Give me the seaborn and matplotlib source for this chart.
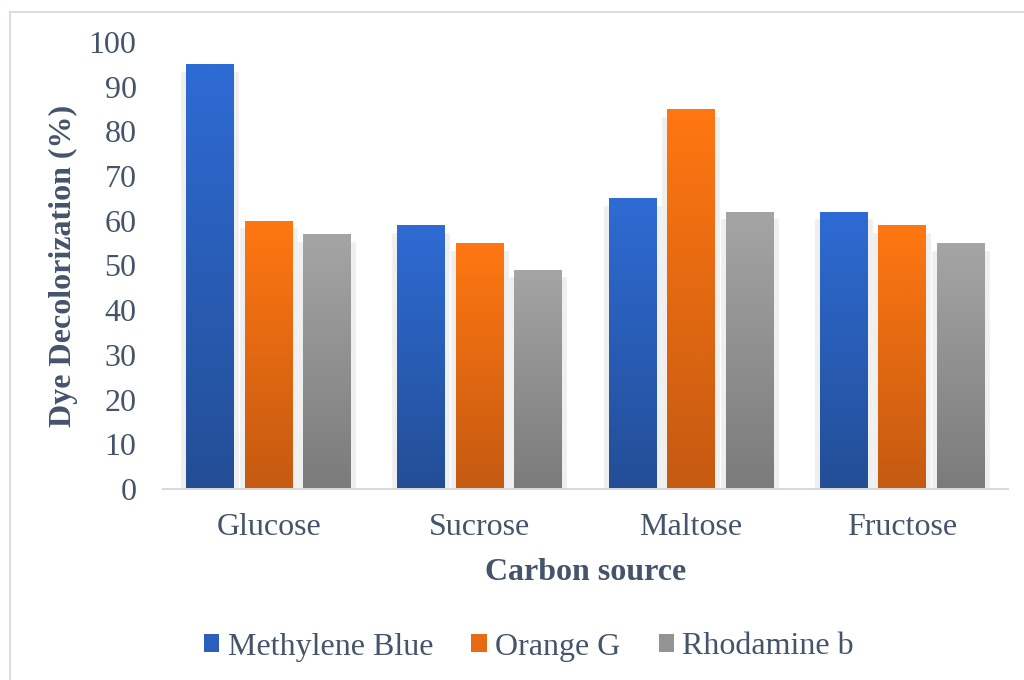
import numpy as np
import pandas as pd
import seaborn as sns
import matplotlib
matplotlib.use("Agg")
import matplotlib.pyplot as plt
import matplotlib.patheffects as pe
from matplotlib.colors import LinearSegmentedColormap
from matplotlib.patches import Rectangle

# Decolorization (%) per carbon source
categories = ["Glucose", "Sucrose", "Maltose", "Fructose"]
dyes = ["Methylene Blue", "Orange G", "Rhodamine b"]
methylene_blue = [95, 59, 65, 62]
orange_g = [60, 55, 85, 59]
rhodamine_b = [57, 49, 62, 55]
y_ticks = [0, 10, 20, 30, 40, 50, 60, 70, 80, 90, 100]

# top (light) and bottom (dark) shade of each dye's bar gradient
top_colors = ["#2E6BD4", "#FF7711", "#A5A5A5"]
bottom_colors = ["#234E96", "#C55A11", "#7B7B7B"]
text_color = "#44546A"
fs = 23

df = pd.DataFrame({
    "Carbon source": categories * 3,
    "Dye": np.repeat(dyes, len(categories)),
    "Value": methylene_blue + orange_g + rhodamine_b,
})

sns.set_theme(style="white")
plt.rcParams["font.family"] = ["Liberation Serif", "DejaVu Serif"]

fig = plt.figure(figsize=(10.24, 6.8), dpi=100)
ax = fig.add_axes([163 / 1024, 1 - 489 / 680, (1008 - 163) / 1024, (489 - 42) / 680])

sns.barplot(data=df, x="Carbon source", y="Value", hue="Dye",
            hue_order=dyes, order=categories, palette=top_colors,
            width=0.83, gap=0.18, ax=ax, legend=False, errorbar=None)

# soft shadow behind every bar, gradient fill on top
for container, c_top, c_bot in zip(ax.containers, top_colors, bottom_colors):
    cmap = LinearSegmentedColormap.from_list("g", [c_bot, c_top])
    grad = np.linspace(0, 1, 256).reshape(-1, 1)
    for bar in container:
        bar.set_facecolor("none")
        bar.set_edgecolor("none")
        bar.set_path_effects([pe.Stroke(linewidth=7, foreground="#efefef",
                                        offset=(0, -9))])
        x0, y0 = bar.get_x(), bar.get_y()
        w, h = bar.get_width(), bar.get_height()
        im = ax.imshow(grad, cmap=cmap, origin="lower", aspect="auto",
                       extent=[x0, x0 + w, y0, y0 + h], zorder=2,
                       interpolation="bilinear")
        im.set_clip_path(bar)

ax.set_xlim(-0.5, len(categories) - 0.5)
ax.set_ylim(0, 100)
ax.set_yticks(y_ticks)
ax.set_yticklabels([str(v) for v in y_ticks])

for side in ["top", "right", "left"]:
    ax.spines[side].set_visible(False)
ax.spines["bottom"].set_color("#D9D9D9")
ax.spines["bottom"].set_linewidth(1.4)
ax.spines["bottom"].set_zorder(3)

ax.tick_params(axis="y", length=0, pad=19, labelsize=fs, labelcolor=text_color)
ax.tick_params(axis="x", length=0, pad=17, labelsize=fs, labelcolor=text_color)
ax.set_xlabel("Carbon source", fontsize=fs, fontweight="bold",
              color=text_color, labelpad=12)
ax.set_ylabel("Dye Decolorization (%)", fontsize=fs, fontweight="bold",
              color=text_color, labelpad=8)

# legend with solid swatches
handles = [Rectangle((0, 0), 1, 1, facecolor=c, edgecolor="none") for c in
           ["#2A5FBE", "#E86A12", "#939393"]]
fig.legend(handles, dyes, loc="center", bbox_to_anchor=(529 / 1024, 1 - 647 / 680),
           ncol=3, frameon=False, fontsize=fs, labelcolor=text_color,
           handlelength=0.48, handleheight=0.5, handletextpad=0.26,
           columnspacing=1.2)

# chart-area frame (top and left edges)
frame = Rectangle((10 / 1024, -0.1), 1.2, 1 - 12 / 680 + 0.1,
                  transform=fig.transFigure, fill=False,
                  edgecolor="#D9DEE4", linewidth=1.5)
fig.patches.append(frame)

fig.savefig("out.png", dpi=100, facecolor="white")
